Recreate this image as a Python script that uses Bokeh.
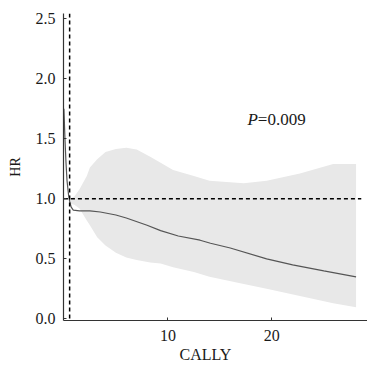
from bokeh.plotting import figure
from bokeh.models import Range1d, FixedTicker, Span, Title
from bokeh.core.properties import value
from bokeh.embed import file_html
from bokeh.resources import INLINE

# curve (CALLY vs HR)
curve_x = [0.0, 0.1, 0.2, 0.3, 0.45, 0.55, 0.7, 0.9, 1.5, 2.5, 3.5, 5.0, 6.0, 8.0, 9.3, 11.0, 13.1, 14.1, 16.0, 19.5, 22.0, 25.0, 28.1]
curve_hr = [1.75, 1.5, 1.3, 1.15, 1.03, 0.98, 0.93, 0.905, 0.9, 0.9, 0.89, 0.865, 0.84, 0.78, 0.735, 0.69, 0.655, 0.63, 0.59, 0.5, 0.45, 0.4, 0.35]

# confidence band
band_x = [0.6, 1.0, 1.5, 2.2, 2.5, 3.2, 4.0, 5.0, 6.0, 7.0, 8.3, 9.3, 10.5, 12.5, 14.0, 17.3, 19.5, 22.7, 25.9, 28.1]
band_upper = [1.0, 1.02, 1.08, 1.19, 1.26, 1.33, 1.39, 1.415, 1.425, 1.41, 1.35, 1.30, 1.24, 1.19, 1.15, 1.13, 1.15, 1.21, 1.29, 1.29]
band_lower = [0.96, 0.95, 0.92, 0.82, 0.78, 0.68, 0.61, 0.55, 0.51, 0.49, 0.47, 0.46, 0.43, 0.39, 0.35, 0.29, 0.25, 0.19, 0.13, 0.097]

x_ticks = [10, 20]
y_ticks = [0.0, 0.5, 1.0, 1.5, 2.0, 2.5]
ref_hr = 1.0
cutoff_x = 0.55
p_text_italic = "P"
p_text_rest = "=0.009"
x_label = "CALLY"
y_label = "HR"

FONT = "Liberation Serif"

p = figure(width=367, height=365, output_backend="svg", toolbar_location=None,
           x_range=Range1d(-0.04, 29.2), y_range=Range1d(-0.014, 2.544),
           min_border_left=63, min_border_right=0, min_border_top=13, min_border_bottom=45)
p.outline_line_color = None
p.grid.visible = False
p.background_fill_color = "white"

p.varea(x=band_x, y1=band_lower, y2=band_upper, fill_color="#e8e8e8")
p.line(curve_x, curve_hr, line_color="#555555", line_width=1.2)

p.line([0, 28.6], [ref_hr, ref_hr], line_color="black", line_width=1.5, line_dash="4 3")
p.add_layout(Span(location=cutoff_x, dimension="height", line_color="black",
                  line_width=1.5, line_dash="4 3"))

p.text(x=[17.65], y=[1.66], text=[p_text_italic], text_font=value(FONT),
       text_font_style="italic", text_font_size="17px", text_baseline="middle",
       text_color="#1a1a1a")
p.text(x=[18.65], y=[1.66], text=[p_text_rest], text_font=value(FONT),
       text_font_size="17px", text_baseline="middle", text_color="#1a1a1a")

for ax in (p.xaxis, p.yaxis):
    ax.axis_line_color = "#333333"
    ax.axis_line_width = 1.2
    ax.major_tick_in = 3
    ax.major_tick_out = 0
    ax.minor_tick_line_color = None
    ax.major_tick_line_color = "#333333"
    ax.major_label_text_font = FONT
    ax.major_label_text_font_size = "16px"
    ax.major_label_text_color = "#1a1a1a"
    ax.axis_label_text_font = FONT
    ax.axis_label_text_font_style = "normal"
    ax.axis_label_text_color = "#1a1a1a"

p.xaxis.ticker = FixedTicker(ticks=x_ticks)
p.yaxis.ticker = FixedTicker(ticks=y_ticks)
p.yaxis.major_label_overrides = {v: f"{v:.1f}" for v in y_ticks}
p.xaxis.major_label_standoff = 9
p.yaxis.major_label_standoff = 8
p.yaxis.axis_label = y_label
p.yaxis.axis_label_text_font_size = "14px"
p.yaxis.axis_label_standoff = 10

p.add_layout(Title(text=x_label, align="left", offset=116, standoff=0,
                   text_font=FONT, text_font_size="16px", text_font_style="normal",
                   text_color="#1a1a1a"), "below")

open("out.html", "w").write(file_html(p, INLINE))
